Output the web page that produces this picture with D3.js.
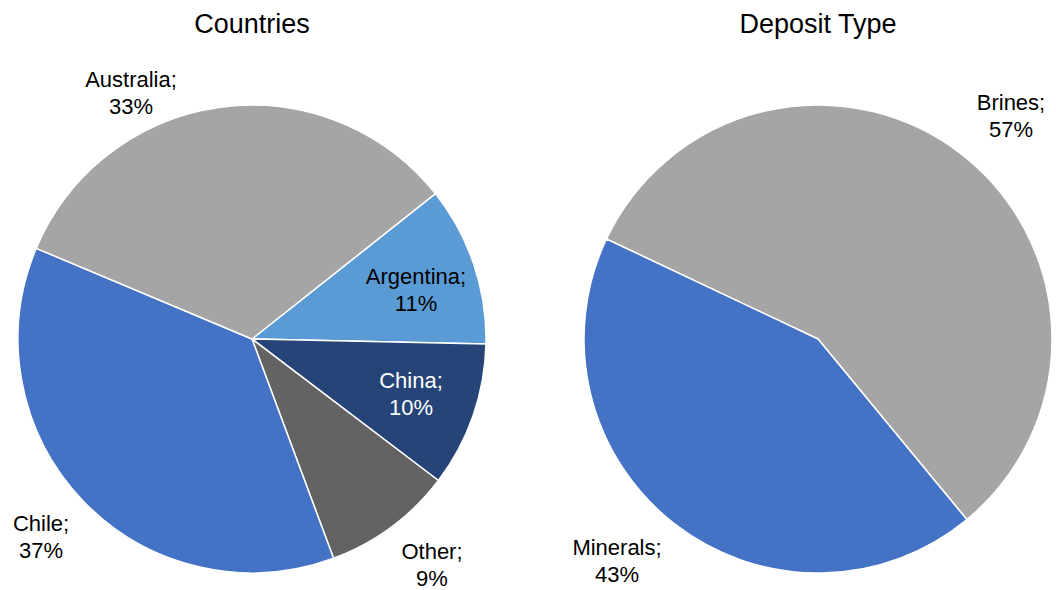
<!DOCTYPE html>
<html>
<head>
<meta charset="utf-8">
<script src="https://cdn.jsdelivr.net/npm/d3@7"></script>
<style>
  html, body { margin: 0; padding: 0; background: #ffffff; }
  svg { display: block; font-family: "Liberation Sans", Arial, sans-serif; }
</style>
</head>
<body>
<svg id="chart" width="1056" height="590"></svg>
<script>
// Share of lithium resources by country (percent)
const countryNames  = ["Argentina", "China", "Other", "Chile", "Australia"];
const countryValues = [11, 10, 9, 37, 33];
const countryColors = ["#5B9BD5", "#264478", "#636363", "#4472C4", "#A5A5A5"];
const countryText   = ["#000000", "#ffffff", "#000000", "#000000", "#000000"];

// Share by deposit type (percent)
const depositNames  = ["Brines", "Minerals"];
const depositValues = [57, 43];
const depositColors = ["#A5A5A5", "#4472C4"];
const depositText   = ["#000000", "#000000"];

// Label anchors, relative to each pie centre (x of text centre, baseline of first line)
const countryLabelPos = [[164, -55], [159, 49], [180, 220], [-211, 192], [-121, -252]];
const depositLabelPos = [[193, -229], [-201, 216]];

const svg = d3.select("#chart");
const R = 234;
const LINE = 27;

function drawPie(cfg) {
  const g = svg.append("g").attr("transform", `translate(${cfg.cx},${cfg.cy})`);
  const pie = d3.pie().sort(null).value(d => d.value)
    .startAngle(cfg.start * Math.PI / 180)
    .endAngle((cfg.start + 360) * Math.PI / 180);
  const arc = d3.arc().innerRadius(0).outerRadius(R);
  const rows = cfg.names.map((n, i) => ({ name: n, value: cfg.values[i], i }));
  const arcs = pie(rows);

  g.selectAll("path.slice").data(arcs).join("path")
    .attr("class", "slice")
    .attr("d", arc)
    .attr("fill", d => cfg.colors[d.data.i])
    .attr("stroke", "#ffffff")
    .attr("stroke-width", 1.5)
    .attr("stroke-linejoin", "round");

  const labels = g.selectAll("text.lbl").data(arcs).join("text")
    .attr("class", "lbl")
    .attr("text-anchor", "middle")
    .attr("font-size", 22)
    .attr("fill", d => cfg.text[d.data.i]);
  labels.append("tspan")
    .attr("x", d => cfg.labelPos[d.data.i][0])
    .attr("y", d => cfg.labelPos[d.data.i][1])
    .text(d => d.data.name + ";");
  labels.append("tspan")
    .attr("x", d => cfg.labelPos[d.data.i][0])
    .attr("y", d => cfg.labelPos[d.data.i][1] + LINE)
    .text(d => d3.format(".0%")(d.data.value / d3.sum(cfg.values)));

  svg.append("text")
    .attr("x", cfg.cx)
    .attr("y", 33)
    .attr("text-anchor", "middle")
    .attr("font-size", 27)
    .attr("fill", "#000000")
    .text(cfg.title);
}

drawPie({
  title: "Countries", cx: 252, cy: 339, start: 51.6,
  names: countryNames, values: countryValues, colors: countryColors,
  text: countryText, labelPos: countryLabelPos
});

drawPie({
  title: "Deposit Type", cx: 818, cy: 339, start: 295.3,
  names: depositNames, values: depositValues, colors: depositColors,
  text: depositText, labelPos: depositLabelPos
});
</script>
</body>
</html>
